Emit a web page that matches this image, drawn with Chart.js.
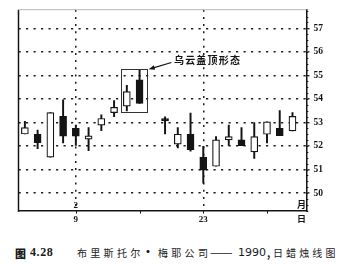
<!DOCTYPE html>
<html>
<head>
<meta charset="utf-8">
<script src="https://cdn.jsdelivr.net/npm/chart.js@4.4.1/dist/chart.umd.min.js"></script>
<style>
  html, body { margin: 0; padding: 0; background: #fff; }
  #wrap { position: relative; width: 351px; height: 264px; overflow: hidden; background: #fff; }
  #c { position: absolute; left: 0; top: 0; }
  .cap { position: absolute; top: 246px; font-size: 10px; line-height: 14px; color: #1a1a1a;
         font-family: "Noto Sans CJK SC"; white-space: nowrap; }
</style>
</head>
<body>
<div id="wrap">
  <canvas id="c" width="351" height="232"></canvas>
  <span class="cap" style="left:15px;font-weight:900;font-size:11px">图</span>
  <span class="cap" style="left:30px;top:245px;font-weight:bold;font-size:12px;letter-spacing:0.6px;font-family:'Liberation Serif'">4.28</span>
  <span class="cap" style="left:77px;letter-spacing:3.3px">布里斯托尔</span>
  <span class="cap" style="left:142px;font-weight:bold;font-size:12px;top:245px">·</span>
  <span class="cap" style="left:158px;letter-spacing:3.3px">梅耶公司</span>
  <span class="cap" style="left:210px;font-size:13.5px;top:244px">——</span>
  <span class="cap" style="left:238px;font-size:11px;font-family:'DejaVu Sans'">1990</span>
  <span class="cap" style="left:267px;font-weight:bold">,</span>
  <span class="cap" style="left:273px;letter-spacing:3.1px">日蜡烛线图</span>
</div>
<script>
// daily candles, one slot per trading day (slot 10 is a holiday, no candle)
const slots  = [0, 1, 2, 3, 4, 5, 6, 7, 8, 9, 10, 11, 12, 13, 14, 15, 16, 17, 18, 19, 20, 21];
const opens  = [52.51, 52.50, 51.53, 53.26, 52.75, 52.29, 52.89, 53.42, 53.69, 54.81, null, 53.17, 52.08, 52.50, 51.53, 51.14, 52.26, 52.26, 51.75, 52.50, 52.75, 52.64];
const highs  = [53.05, 52.68, 53.42, 53.96, 52.89, 52.78, 53.33, 53.93, 54.58, 55.21, null, 53.24, 52.78, 53.40, 51.99, 52.40, 52.89, 52.78, 53.00, 53.03, 53.51, 53.42];
const lows   = [52.51, 51.89, 51.53, 52.13, 52.03, 51.80, 52.65, 53.25, 53.49, 53.81, null, 52.51, 51.92, 51.78, 50.42, 51.14, 52.03, 52.01, 51.47, 52.13, 52.44, 52.64];
const closes = [52.78, 52.14, 53.42, 52.42, 52.42, 52.43, 53.17, 53.64, 54.31, 53.81, null, 53.07, 52.50, 51.85, 50.97, 52.26, 52.40, 52.01, 52.40, 53.03, 52.44, 53.26];

// axis labels
const tickSlots   = [4, 14, 21.7];
const dayLabels   = ['9', '23', '日'];
const monthLabels = ['2', '', '月'];
const weekSlots   = [4, 9, 14, 19];
const yTicks      = [50, 51, 52, 53, 54, 55, 56, 57];

// dark cloud cover pattern
const patternSlots = [8, 9];
const patternLabel = '乌云盖顶形态';

const INK = '#141414';
const NUM_FONT = "'Liberation Serif', 'Noto Sans CJK SC'";

const live = slots.filter(i => opens[i] !== null);
const bodies = live.map(i => ({ x: i, y: [opens[i], closes[i]] }));
const wicks  = live.map(i => ({ x: i, y: [lows[i], highs[i]] }));
const bodyFill = live.map(i => closes[i] < opens[i] ? INK : '#fff');

const decor = {
  id: 'decor',
  afterDraw(chart) {
    const { ctx, chartArea: a, scales: { x, y } } = chart;
    ctx.save();
    // left and top frame
    ctx.strokeStyle = INK; ctx.lineWidth = 1.5;
    ctx.beginPath(); ctx.moveTo(a.left, a.top); ctx.lineTo(a.left, a.bottom + 0.75); ctx.stroke();
    ctx.strokeStyle = '#b8b8b8'; ctx.lineWidth = 1;
    ctx.beginPath(); ctx.moveTo(a.left, a.top); ctx.lineTo(a.right, a.top); ctx.stroke();

    // small ticks on the price axis
    ctx.strokeStyle = INK; ctx.lineWidth = 1;
    for (let v = Math.ceil(y.min * 4) / 4; v <= y.max; v += 0.25) {
      const py = Math.round(y.getPixelForValue(v)) + 0.5;
      ctx.beginPath(); ctx.moveTo(a.right, py); ctx.lineTo(a.right + 1.8, py); ctx.stroke();
    }
    // week marks on the date axis
    weekSlots.forEach(s => {
      const px = Math.round(x.getPixelForValue(s)) + 0.5;
      ctx.beginPath(); ctx.moveTo(px, a.bottom); ctx.lineTo(px, a.bottom + 2.5); ctx.stroke();
    });

    // month labels sit just above the date axis
    ctx.fillStyle = INK;
    ctx.font = 'bold 9px ' + NUM_FONT;
    ctx.textAlign = 'center'; ctx.textBaseline = 'middle';
    monthLabels.forEach((m, i) => {
      if (m) ctx.fillText(m, x.getPixelForValue(tickSlots[i]), a.bottom - 5);
    });

    // box round the pattern
    const pLo = Math.min(...patternSlots.map(i => lows[i]));
    const pHi = Math.max(...patternSlots.map(i => highs[i]));
    const bx1 = x.getPixelForValue(patternSlots[0] - 0.47);
    const bx2 = x.getPixelForValue(patternSlots[patternSlots.length - 1] + 0.6);
    const by1 = y.getPixelForValue(pHi + 0.05);
    const by2 = y.getPixelForValue(pLo - 0.06);
    ctx.strokeStyle = '#333'; ctx.lineWidth = 1;
    ctx.strokeRect(Math.round(bx1) + 0.5, Math.round(by1) + 0.5, Math.round(bx2 - bx1), Math.round(by2 - by1));

    // arrow from the label to the box corner
    const sx = x.getPixelForValue(11.5), sy = y.getPixelForValue(55.55);
    const ex = bx2 + 1.5, ey = by1;
    const ang = Math.atan2(ey - sy, ex - sx);
    ctx.strokeStyle = INK; ctx.lineWidth = 1.1;
    ctx.beginPath(); ctx.moveTo(sx, sy); ctx.lineTo(ex - 4 * Math.cos(ang), ey - 4 * Math.sin(ang)); ctx.stroke();
    ctx.beginPath();
    ctx.moveTo(ex, ey);
    ctx.lineTo(ex - 6 * Math.cos(ang) + 2.3 * Math.sin(ang), ey - 6 * Math.sin(ang) - 2.3 * Math.cos(ang));
    ctx.lineTo(ex - 6 * Math.cos(ang) - 2.3 * Math.sin(ang), ey - 6 * Math.sin(ang) + 2.3 * Math.cos(ang));
    ctx.closePath(); ctx.fill();

    ctx.font = 'bold 10px "Noto Sans CJK SC"';
    ctx.letterSpacing = '1.2px';
    ctx.textAlign = 'left';
    ctx.fillText(patternLabel, x.getPixelForValue(11.7), y.getPixelForValue(55.64));
    ctx.restore();
  }
};

new Chart(document.getElementById('c'), {
  type: 'bar',
  data: {
    datasets: [
      {
        data: wicks,
        grouped: false,
        order: 2,
        barThickness: 1.3,
        backgroundColor: INK,
        borderWidth: 0
      },
      {
        data: bodies,
        grouped: false,
        order: 1,
        barThickness: 7,
        backgroundColor: bodyFill,
        borderColor: INK,
        borderWidth: 1.2,
        borderSkipped: false
      }
    ]
  },
  options: {
    responsive: false,
    animation: false,
    layout: { padding: { left: 18.5, top: 5, right: 0, bottom: 0 } },
    plugins: { legend: { display: false }, tooltip: { enabled: false } },
    scales: {
      x: {
        type: 'linear',
        min: -0.5,
        max: 22.1,
        offset: false,
        afterBuildTicks: s => { s.ticks = tickSlots.map(v => ({ value: v })); },
        afterFit: s => { s.height = 21; },
        grid: {
          offset: false,
          drawTicks: false,
          lineWidth: 1.5,
          color: c => (c.index === tickSlots.length - 1 ? 'rgba(0,0,0,0)' : '#1e1e1e')
        },
        border: { color: INK, width: 1.5, dash: [2, 5.2] },
        ticks: {
          padding: 3,
          autoSkip: false,
          maxRotation: 0,
          color: INK,
          font: { family: NUM_FONT, size: 9, weight: 'bold' },
          callback: (v, i) => dayLabels[i]
        }
      },
      y: {
        position: 'right',
        min: 49.24,
        max: 57.79,
        afterBuildTicks: s => { s.ticks = yTicks.map(v => ({ value: v })); },
        afterFit: s => { s.width = 44.5; },
        grid: { color: '#1e1e1e', lineWidth: 1.5, tickLength: 3, tickColor: INK, tickWidth: 1.2 },
        border: { color: INK, width: 1.5, dash: [2.2, 5.3] },
        ticks: {
          padding: 4,
          color: INK,
          font: { family: NUM_FONT, size: 9.5, weight: 'bold' }
        }
      }
    }
  },
  plugins: [decor]
});
</script>
</body>
</html>
